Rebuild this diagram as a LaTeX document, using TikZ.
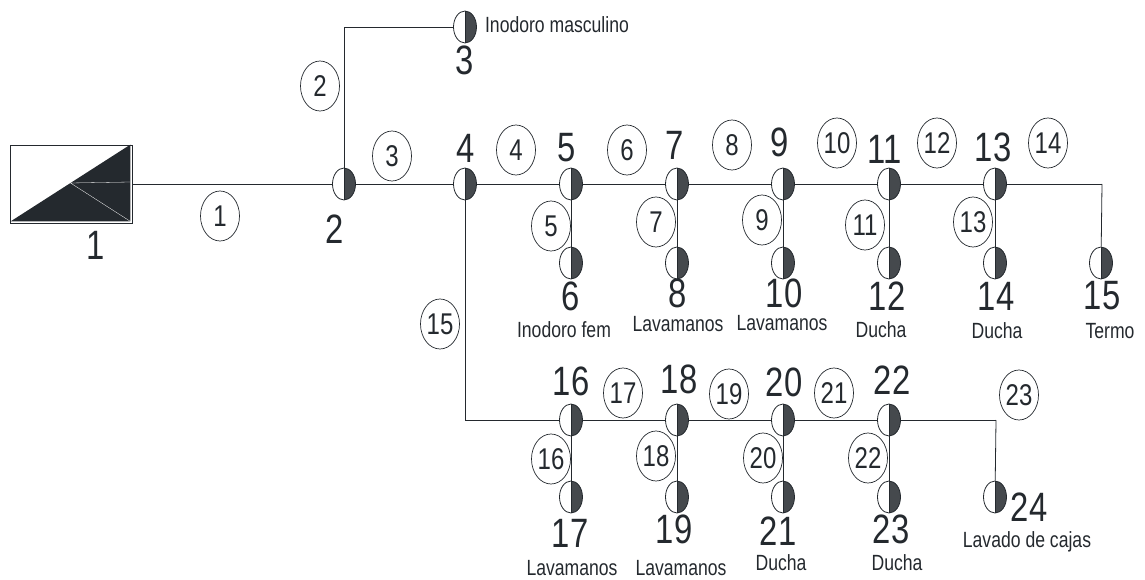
\documentclass[tikz,border=0pt]{standalone}
\usepackage{fontspec}
\setmainfont[FakeStretch=0.8]{Liberation Sans}
\usepackage{tikz}
\usetikzlibrary{positioning}
\usetikzlibrary{calc}
\usetikzlibrary{shapes.geometric}
\definecolor{pipe}{rgb}{0.14,0.16,0.18}

\begin{document}
\begin{tikzpicture}[
            x = 1pt,
            y = -1pt,
            line width = 0.8pt,
            draw = pipe,
            text = pipe,
            node distance = 106pt % distance between fixtures
        ]

        \tikzstyle{fixture}=[
            ellipse,
            draw = pipe,
            fill = white,
            inner sep = 0pt,
            minimum width = 23pt,
            minimum height = 32pt,
            path picture = {
                \fill[pipe!85] (path picture bounding box.north) rectangle (path picture bounding box.south east);
                \draw[pipe] (path picture bounding box.north) -- (path picture bounding box.south);
            }
        ]
        \tikzstyle{tramo}=[
            ellipse,
            draw = pipe,
            line width = 0.7pt,
            inner sep = 0pt,
            minimum width = 39pt,
            minimum height = 50pt,
            font = \fontsize{30}{30}\selectfont
        ]
        \tikzstyle{nudo}=[
            inner sep = 0pt,
            font = \fontsize{41}{41}\selectfont
        ]
        \tikzstyle{aparato}=[
            inner sep = 0pt,
            font = \fontsize{22}{22}\selectfont
        ]

        \useasboundingbox (0,0) rectangle (1145,580);

        % tank
        \node[draw = pipe, inner sep = 0pt, minimum width = 122pt, minimum height = 78pt] (T) at (71,184) {};
        \coordinate (TA) at ($(T.south west)+(1,-2)$);
        \coordinate (TB) at ($(T.north east)+(-2,0)$);
        \coordinate (TC) at ($(T.south east)+(-2,-2)$);
        \coordinate (TD) at ($(T.east)+(-2,-2)$);
        \coordinate (TM) at ($(TA)!0.5!(TB)$);
        \fill[pipe] (TA) -- (TB) -- (TC) -- cycle;
        \draw[white, line width = 0.3pt] (TD) -- (TM) -- (TC);

        % upper branch
        \node[fixture] (F2) at (344,184) {};
        \node[fixture] (F3) at (465,27) {};
        \node[fixture] (F4) [right of = F2, xshift = 15pt] {};
        \node[fixture] (F5) [right of = F4] {};
        \node[fixture] (F7) [right of = F5] {};
        \node[fixture] (F9) [right of = F7] {};
        \node[fixture] (F11) [right of = F9] {};
        \node[fixture] (F13) [right of = F11] {};

        % outlets below the upper branch
        \node[fixture] (F6) at (571,263) {};
        \node[fixture] (F8) [right of = F6] {};
        \node[fixture] (F10) [right of = F8] {};
        \node[fixture] (F12) [right of = F10] {};
        \node[fixture] (F14) [right of = F12] {};
        \node[fixture] (F15) [right of = F14] {};

        % lower branch
        \node[fixture] (F16) at (571,420) {};
        \node[fixture] (F18) [right of = F16] {};
        \node[fixture] (F20) [right of = F18] {};
        \node[fixture] (F22) [right of = F20] {};

        % outlets below the lower branch
        \node[fixture] (F17) at (571,497) {};
        \node[fixture] (F19) [right of = F17] {};
        \node[fixture] (F21) [right of = F19] {};
        \node[fixture] (F23) [right of = F21] {};
        \node[fixture] (F24) [right of = F23] {};

        % elbows
        \coordinate (C2) at (344,27);
        \coordinate (C4) at (465,420);
        \coordinate (C13) at (1102,184);
        \coordinate (C22) at (996,420);

        % pipes
        \draw (T.east) -- (F2);
        \draw (F2) -- (C2);
        \draw (C2) -- (F3);
        \draw (F2) -- (F4);
        \draw (F4) -- (F5);
        \draw (F5) -- (F7);
        \draw (F7) -- (F9);
        \draw (F9) -- (F11);
        \draw (F11) -- (F13);
        \draw (F13) -- (C13);
        \draw (C13) -- (F15);
        \draw (F5) -- (F6);
        \draw (F7) -- (F8);
        \draw (F9) -- (F10);
        \draw (F11) -- (F12);
        \draw (F13) -- (F14);
        \draw (F4) -- (C4);
        \draw (C4) -- (F16);
        \draw (F16) -- (F18);
        \draw (F18) -- (F20);
        \draw (F20) -- (F22);
        \draw (F22) -- (C22);
        \draw (C22) -- (F24);
        \draw (F16) -- (F17);
        \draw (F18) -- (F19);
        \draw (F20) -- (F21);
        \draw (F22) -- (F23);

        % pipe numbers
        \node[tramo] (P1) at (220,216) {1};
        \node[tramo] (P2) at (320,86) {2};
        \node[tramo] (P3) at (392,156) {3};
        \node[tramo] (P4) at (516,150) {4};
        \node[tramo] (P5) at (551,226) {5};
        \node[tramo] (P6) at (627,150) {6};
        \node[tramo] (P7) at (656,222) {7};
        \node[tramo] (P8) at (732,145) {8};
        \node[tramo] (P9) at (762,220) {9};
        \node[tramo] (P10) at (837,143) {10};
        \node[tramo] (P11) at (865,225) {11};
        \node[tramo] (P12) at (937,143) {12};
        \node[tramo] (P13) at (973,222) {13};
        \node[tramo] (P14) at (1048,143) {14};
        \node[tramo] (P15) at (440,324) {15};
        \node[tramo] (P16) at (551,459) {16};
        \node[tramo] (P17) at (623,393) {17};
        \node[tramo] (P18) at (656,456) {18};
        \node[tramo] (P19) at (729,394) {19};
        \node[tramo] (P20) at (763,458) {20};
        \node[tramo] (P21) at (834,393) {21};
        \node[tramo] (P22) at (868,458) {22};
        \node[tramo] (P23) at (1019,395) {23};

        % node numbers
        \node[nudo] (N1) at (96,245) {1};
        \node[nudo] (N2) at (335,229) {2};
        \node[nudo] (N3) at (465,60) {3};
        \node[nudo] (N4) at (466,148) {4};
        \node[nudo] (N5) at (567,148) {5};
        \node[nudo] (N6) at (571,296) {6};
        \node[nudo] (N7) at (675,145) {7};
        \node[nudo] (N8) at (678,293) {8};
        \node[nudo] (N9) at (780,142) {9};
        \node[nudo] (N10) at (784,293) {10};
        \node[nudo] (N11) at (885,149) {11};
        \node[nudo] (N12) at (887,296) {12};
        \node[nudo] (N13) at (993,147) {13};
        \node[nudo] (N14) at (996,296) {14};
        \node[nudo] (N15) at (1102,296) {15};
        \node[nudo] (N16) at (571,381) {16};
        \node[nudo] (N17) at (570,533) {17};
        \node[nudo] (N18) at (679,379) {18};
        \node[nudo] (N19) at (674,529) {19};
        \node[nudo] (N20) at (784,382) {20};
        \node[nudo] (N21) at (778,531) {21};
        \node[nudo] (N22) at (892,380) {22};
        \node[nudo] (N23) at (891,529) {23};
        \node[nudo] (N24) at (1029,507) {24};

        % outlet names
        \node[aparato] (A3) at (557,25) {Inodoro masculino};
        \node[aparato] (A6) at (564,330) {Inodoro fem};
        \node[aparato] (A8) at (678,324) {Lavamanos};
        \node[aparato] (A10) at (782,323) {Lavamanos};
        \node[aparato] (A12) at (881,330) {Ducha};
        \node[aparato] (A14) at (997,331) {Ducha};
        \node[aparato] (A15) at (1110,331) {Termo};
        \node[aparato] (A17) at (572,568) {Lavamanos};
        \node[aparato] (A19) at (681,568) {Lavamanos};
        \node[aparato] (A21) at (781,563) {Ducha};
        \node[aparato] (A23) at (897,563) {Ducha};
        \node[aparato] (A24) at (1027,542) {Lavado de cajas};

\end{tikzpicture}
\end{document}
